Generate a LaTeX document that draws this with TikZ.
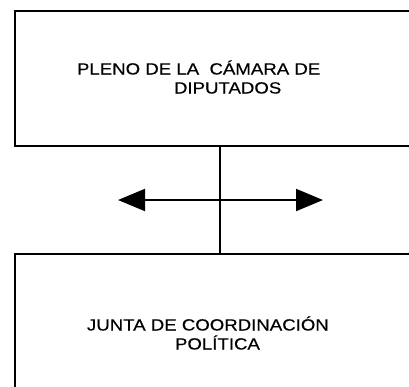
\documentclass[tikz,border=0pt]{standalone}
\usepackage{fontspec}
\setmainfont{Liberation Sans}[FakeStretch=1.15,FakeBold=0.35]
\usetikzlibrary{arrows.meta}
\begin{document}
\begin{tikzpicture}[x=1pt,y=-1pt,
  box/.style={draw=black, line width=2pt, inner sep=0pt, outer sep=0pt, rectangle},
  txt/.style={inner sep=0pt, outer sep=0pt, font=\fontsize{16.2}{19}\selectfont, anchor=base west},
  conn/.style={draw=black, line width=1.8pt},
  bigtip/.tip={Triangle[length=27pt,width=22pt]}
]
\path[use as bounding box, clip] (0,0) rectangle (409,386);
\fill[white] (0,0) rectangle (409,386);
% boxes (extend beyond the right and bottom edges)
\node[box, minimum width=425pt, minimum height=135pt] (pleno) at (227.5,78.5) {};
\node[box, minimum width=425pt, minimum height=186pt] (junta) at (227.5,347) {};
% texts
\node[txt] (plenoA) at (77,74.5) {PLENO DE LA\ \ CÁMARA DE};
\node[txt] (plenoB) at (174,93.5) {DIPUTADOS};
\node[txt] (juntaA) at (87,330.5) {JUNTA DE COORDINACIÓN};
\node[txt] (juntaB) at (175,349.5) {POLÍTICA};
% connectors
\coordinate (mid) at (220,200);
\coordinate (al) at (118,200);
\coordinate (ar) at (323,200);
\draw[conn] (pleno.south -| mid) -- (junta.north -| mid);
\draw[conn, line width=2pt, bigtip-bigtip] (al) -- (ar);
\end{tikzpicture}
\end{document}
